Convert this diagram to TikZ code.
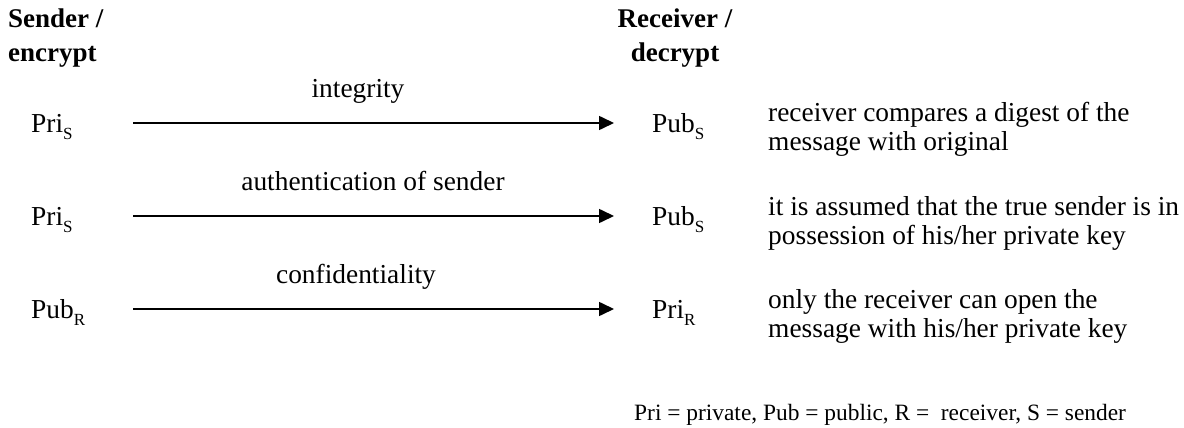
\documentclass[tikz,border=0pt]{standalone}
\usepackage{fontspec}
\setmainfont{Liberation Serif}
\usetikzlibrary{arrows.meta}
\newcommand{\sbs}[1]{\raisebox{-7pt}{\fontsize{17}{17}\selectfont #1}}
\tikzset{
  txt/.style={anchor=base west,inner sep=0pt,font=\fontsize{27.4}{30}\selectfont},
  head/.style={anchor=base west,inner sep=0pt,font=\fontsize{27}{34}\selectfont\bfseries,align=left},
  headc/.style={anchor=base,inner sep=0pt,font=\fontsize{27}{34}\selectfont\bfseries,align=center},
  lbl/.style={anchor=base,inner sep=0pt,font=\fontsize{27.4}{30}\selectfont},
  desc/.style={anchor=base west,inner sep=0pt,font=\fontsize{27.4}{29}\selectfont,align=left},
  foot/.style={anchor=base west,inner sep=0pt,font=\fontsize{23.4}{26}\selectfont},
  arr/.style={line width=1.6pt,-{Triangle[length=15pt,width=14pt]}}
}
\begin{document}
\begin{tikzpicture}[x=1pt,y=-1pt]
\useasboundingbox (0,0) rectangle (1184,428);
\node[head] (snd) at (8,62) {Sender /\\encrypt};
\node[headc] (rcv) at (675,62) {Receiver /\\decrypt};

\node[txt] (k1) at (31,132) {Pri\sbs{S}};
\node[txt] (k2) at (31,225) {Pri\sbs{S}};
\node[txt] (k3) at (31,318) {Pub\sbs{R}};
\node[txt] (r1) at (652,132) {Pub\sbs{S}};
\node[txt] (r2) at (652,225) {Pub\sbs{S}};
\node[txt] (r3) at (652,318) {Pri\sbs{R}};

\coordinate (s1) at (133,123); \coordinate (e1) at (614,123);
\coordinate (s2) at (133,216); \coordinate (e2) at (614,216);
\coordinate (s3) at (133,309); \coordinate (e3) at (614,309);
\draw[arr] (s1) -- (e1);
\draw[arr] (s2) -- (e2);
\draw[arr] (s3) -- (e3);

\node[lbl] (l1) at (358,97) {integrity};
\node[lbl] (l2) at (373,190) {authentication of sender};
\node[lbl] (l3) at (356,283) {confidentiality};

\node[desc] (d1) at (768,150) {receiver compares a digest of the\\message with original};
\node[desc] (d2) at (768,244) {it is assumed that the true sender is in\\possession of his/her private key};
\node[desc] (d3) at (768,337) {only the receiver can open the\\message with his/her private key};

\node[foot] (leg) at (634,420) {Pri = private, Pub = public, R =\ \ receiver, S = sender};
\end{tikzpicture}
\end{document}
